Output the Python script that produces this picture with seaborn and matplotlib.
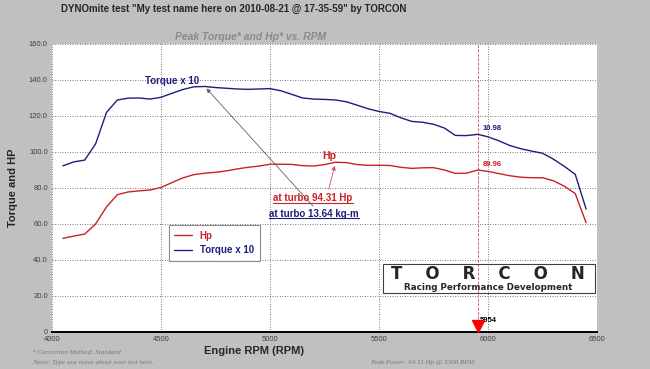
import numpy as np
import pandas as pd
import matplotlib
matplotlib.use("Agg")
import matplotlib.pyplot as plt
from matplotlib.patches import Rectangle
import seaborn as sns

# data
rpm = [4050, 4100, 4150, 4200, 4250, 4300, 4350, 4400, 4450, 4500, 4550, 4600,
       4650, 4700, 4750, 4800, 4850, 4900, 4950, 5000, 5050, 5100, 5150, 5200,
       5250, 5300, 5350, 5400, 5450, 5500, 5550, 5600, 5650, 5700, 5750, 5800,
       5850, 5900, 5954, 6000, 6050, 6100, 6150, 6200, 6250, 6300, 6350, 6400, 6450]
torque_x10 = [92.3, 94.5, 95.5, 104.5, 122.0, 128.9, 129.9, 130.0, 129.4, 130.4, 132.6, 134.7,
              136.2, 136.4, 135.8, 135.4, 135.0, 134.8, 135.0, 135.2, 134.0, 132.0, 130.0, 129.4,
              129.2, 128.9, 127.9, 126.0, 124.0, 122.5, 121.5, 119.0, 117.0, 116.5, 115.4, 113.3,
              109.2, 109.1, 109.8, 108.4, 106.2, 103.6, 101.8, 100.5, 99.3, 96.0, 92.0, 87.6, 68.3]
hp = [52.0, 53.3, 54.4, 60.0, 69.5, 76.3, 77.8, 78.4, 78.9, 80.3, 83.0, 85.6,
      87.4, 88.2, 88.7, 89.5, 90.6, 91.5, 92.2, 93.2, 93.2, 93.1, 92.4, 92.2,
      93.0, 94.3, 94.1, 93.0, 92.6, 92.6, 92.5, 91.5, 90.9, 91.2, 91.3, 90.0,
      88.1, 88.2, 90.0, 89.2, 88.0, 86.8, 86.0, 85.7, 85.7, 84.0, 81.0, 76.9, 60.7]

cursor_rpm = 5954
peak_hp_rpm, peak_hp = 5300, 94.31
peak_tq_rpm, peak_tq = 4700, 136.4
cursor_tq, cursor_hp = 109.8, 89.96
x_ticks = [4000, 4500, 5000, 5500, 6000, 6500]
y_ticks = [0, 20, 40, 60, 80, 100, 120, 140, 160]

HP_C = "#cc1f26"
TQ_C = "#1c1f7a"
BG = "#c0c0c0"
SANS = ["Liberation Sans", "DejaVu Sans"]

df = pd.DataFrame({
    "rpm": rpm + rpm,
    "value": hp + torque_x10,
    "series": ["Hp"] * len(rpm) + ["Torque x 10"] * len(rpm),
})

sns.set_style("white")
plt.rcParams["font.family"] = SANS

fig = plt.figure(figsize=(6.5, 3.69), dpi=100, facecolor=BG)
ax = fig.add_axes([0.08, 0.1003, 0.8385, 0.7805])
ax.set_facecolor("white")

sns.lineplot(data=df, x="rpm", y="value", hue="series",
             palette={"Hp": HP_C, "Torque x 10": TQ_C}, lw=1.0, ax=ax, legend=True)

ax.set_xlim(4000, 6500)
ax.set_ylim(0, 160)
ax.set_xticks(x_ticks)
ax.set_yticks(y_ticks)
ax.set_yticklabels(["0"] + [f"{v:.1f}" for v in y_ticks[1:]])
ax.tick_params(labelsize=5.5, colors="#404040", length=2, pad=1)
ax.set_xlabel("")
ax.set_ylabel("")
for s in ["top", "left", "right"]:
    ax.spines[s].set_visible(False)
ax.spines["bottom"].set_color("black")
ax.spines["bottom"].set_linewidth(1.4)
ax.spines["bottom"].set_zorder(5)

# dotted grid including the frame edges
for xv in x_ticks:
    ax.axvline(xv, color="#505050", ls=(0, (1, 2)), lw=0.6, zorder=0)
for yv in y_ticks[1:]:
    ax.axhline(yv, color="#505050", ls=(0, (1, 2)), lw=0.6, zorder=0)

# cursor line + marker
ax.axvline(cursor_rpm, color="#e06070", ls=(0, (3, 1.5)), lw=0.7, zorder=1)
ax.plot([cursor_rpm], [3.4], marker="v", color="red", ms=8, clip_on=False, zorder=6)
ax.text(cursor_rpm + 10, 5.6, str(cursor_rpm), fontsize=5.5, fontweight="bold", color="black")
ax.text(cursor_rpm + 20, cursor_tq + 2.5, f"{cursor_tq / 10:.2f}", fontsize=5.5,
        fontweight="bold", color=TQ_C)
ax.text(cursor_rpm + 20, cursor_hp + 2.3, f"{cursor_hp:.2f}", fontsize=5.5,
        fontweight="bold", color=HP_C)

# labels on curves
ax.text(4550, 139.5, "Torque x 10", fontsize=7, fontweight="bold", color=TQ_C,
        ha="center", va="center")
ax.text(5270, 97.5, "Hp", fontsize=7.5, fontweight="bold", color=HP_C,
        ha="center", va="center")

t1 = ax.text(5197, 74.4, f"at turbo {peak_hp:.2f} Hp", fontsize=7, fontweight="bold",
             color=HP_C, ha="center", va="center")
t2 = ax.text(5202, 65.6, "at turbo 13.64 kg-m", fontsize=7, fontweight="bold",
             color=TQ_C, ha="center", va="center")
ax.annotate("", xy=(peak_tq_rpm, peak_tq), xytext=(5206, 68.8),
            arrowprops=dict(arrowstyle="-|>", color="#606060", lw=0.6, mutation_scale=6))
ax.annotate("", xy=(peak_hp_rpm, peak_hp - 0.5), xytext=(5266, 77.8),
            arrowprops=dict(arrowstyle="-|>", color="#d05060", lw=0.6, mutation_scale=6))

# legend
h, l = ax.get_legend_handles_labels()
leg = ax.legend(h, l, loc="lower left", bbox_to_anchor=(0.205, 0.23), frameon=True,
                fancybox=False, edgecolor="#707070", handlelength=1.8,
                borderpad=0.6, labelspacing=0.45,
                prop={"weight": "bold", "size": 7, "family": SANS})
leg.get_frame().set_linewidth(0.8)
for txt, c in zip(leg.get_texts(), [HP_C, TQ_C]):
    txt.set_color(c)

# TORCON logo box
ax.add_patch(Rectangle((0.607, 0.135), 0.389, 0.101, transform=ax.transAxes,
                       fill=False, ec="#404040", lw=0.8, zorder=4))
ax.text(0.8, 0.203, "T    O    R    C    O    N", transform=ax.transAxes, fontsize=12,
        fontweight="black", family="DejaVu Sans", ha="center", va="center")
ax.text(0.8, 0.155, "Racing Performance Development", transform=ax.transAxes,
        fontsize=6.3, fontweight="bold", family="DejaVu Sans", ha="center", va="center")

# figure texts
fig.text(0.36, 0.975, 'DYNOmite test "My test name here on 2010-08-21 @ 17-35-59" by TORCON',
         fontsize=7, fontweight="bold", ha="center", va="center")
fig.text(0.385, 0.9, "Peak Torque* and Hp* vs. RPM", fontsize=7.5, fontweight="bold",
         style="italic", color="#8a8a8a", ha="center", va="center")
fig.text(0.02, 0.49, "Torque and HP", fontsize=8, fontweight="bold", rotation=90,
         ha="center", va="center")
fig.text(0.39, 0.048, "Engine RPM (RPM)", fontsize=8, fontweight="bold",
         ha="center", va="center")
serif = ["Liberation Serif", "DejaVu Serif"]
fig.text(0.05, 0.046, "* Correction Method: Standard", fontsize=5, style="italic",
         color="#777777", family=serif, va="center")
fig.text(0.05, 0.018, "Notes: Type any notes about your test here.", fontsize=5,
         style="italic", color="#777777", family=serif, va="center")
fig.text(0.73, 0.018, f"Peak Power: {peak_hp:.2f} Hp @ {peak_hp_rpm} RPM", fontsize=5,
         style="italic", color="#777777", family=serif, ha="right", va="center")

# underline the peak labels
fig.canvas.draw()
r = fig.canvas.get_renderer()
inv = ax.transData.inverted()
for t, c in [(t1, HP_C), (t2, TQ_C)]:
    bb = t.get_window_extent(r)
    (x0, y0), (x1, _) = inv.transform([(bb.x0, bb.y0 + 0.5), (bb.x1, bb.y0)])
    ax.plot([x0, x1], [y0, y0], color=c, lw=0.8)

fig.savefig("out.png", dpi=100, facecolor=BG)
